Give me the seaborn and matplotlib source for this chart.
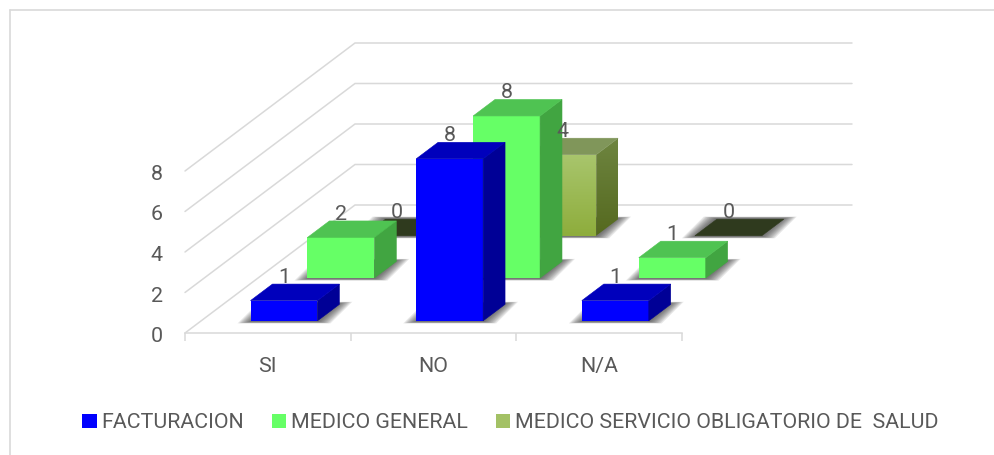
import numpy as np
import pandas as pd
import matplotlib
matplotlib.use("Agg")
import matplotlib.pyplot as plt
from matplotlib.lines import Line2D
from matplotlib.patches import Patch, Polygon
from matplotlib.colors import to_rgb
from matplotlib.transforms import ScaledTranslation
import seaborn as sns

categories = ["SI", "NO", "N/A"]
series_names = ["FACTURACION", "MEDICO GENERAL", "MEDICO SERVICIO OBLIGATORIO DE  SALUD"]
facturacion = [1, 8, 1]
medico_general = [2, 8, 1]
medico_servicio = [0, 4, 0]
y_ticks = [0, 2, 4, 6, 8]

W, H = 994, 455
TEXT = "#595959"
GRID = "#D9D9D9"
FS = 15.4
FRONT = ["#0000FF", "#66FF66", "#A3C165"]
STYLE = {
    series_names[0]: dict(depth=0.095, z=50, top="#0000BC", side=("#000096", "#000096"),
                          front=("#0000FF", "#0000FF")),
    series_names[1]: dict(depth=0.43, z=30, top="#4FC352", side=("#41A541", "#41A541"),
                          front=("#66FF66", "#66FF66")),
    series_names[2]: dict(depth=0.76, z=10, top="#80965A", side=("#6E8540", "#55691F"),
                          front=("#A8C56C", "#8EAD3C")),
}
ZERO_TOP = "#2F3A1E"

sns.set_theme(style="white")
plt.rcParams["font.family"] = ["Roboto", "DejaVu Sans"]

df = pd.DataFrame({
    "categoria": categories * 3,
    "serie": np.repeat(series_names, 3),
    "valor": facturacion + medico_general + medico_servicio,
})

fig = plt.figure(figsize=(W / 100, H / 100), dpi=100, facecolor="white")
ax = fig.add_axes([185 / W, (H - 333) / H, 497 / W, 162 / H])
sns.barplot(data=df, x="categoria", y="valor", hue="serie", dodge=False, width=0.404,
            saturation=1, palette=FRONT, legend=False, ax=ax, errorbar=None)
ax.set_xlim(-0.5, 2.5)
ax.set_ylim(0, 8)
XLIM, YLIM = ax.get_xlim(), ax.get_ylim()

px_x = 3 / 497          # data units of one pixel, horizontally
px_y = 8 / 162          # data units of one pixel, vertically
dx_full = 170 * px_x    # oblique offset of the full floor depth
dy_full = 128 * px_y
bar_depth = 0.129


def oblique(x, y, d):
    return x + d * dx_full, y + d * dy_full


def gradient(verts, colors, z):
    xs, ys = zip(*verts)
    c0, c1 = np.array(to_rgb(colors[0])), np.array(to_rgb(colors[1]))
    t = np.linspace(0, 1, 64)[:, None]
    img = (c0 * (1 - t) + c1 * t)[:, None, :]
    im = ax.imshow(img, extent=(min(xs), max(xs), min(ys), max(ys)), aspect="auto",
                   origin="upper", zorder=z, interpolation="bilinear")
    clip = Polygon(verts, transform=ax.transData, closed=True)
    im.set_clip_box(fig.bbox)
    im.set_clip_path(clip)


# gridlines running up the left wall and along the back wall
for v in y_ticks:
    xb, yb = oblique(XLIM[0], v, 1)
    ax.plot([XLIM[0], xb, xb + 3], [v, yb, yb], color=GRID, lw=1.1, clip_on=False,
            zorder=1, solid_joinstyle="miter")

for container, name in zip(ax.containers, series_names):
    st = STYLE[name]
    d0, d1, z = st["depth"], st["depth"] + bar_depth, st["z"]
    for bar in container:
        x0, w, h = bar.get_x(), bar.get_width(), bar.get_height()
        x1 = x0 + w
        # soft shadow on the floor
        for e in np.linspace(13, 1, 9):
            ex, ey = e * px_x, (1 + e * 0.12) * px_y
            pts = [oblique(x0 - ex, 0 - ey, d0), oblique(x1 + ex, 0 - ey, d0),
                   oblique(x1 + ex, 0 + ey, d1), oblique(x0 - ex, 0 + ey, d1)]
            ax.fill(*zip(*pts), color="#303030", alpha=0.11, lw=0, clip_on=False, zorder=z - 1)
        f_bl, f_br = oblique(x0, 0, d0), oblique(x1, 0, d0)
        f_tl, f_tr = oblique(x0, h, d0), oblique(x1, h, d0)
        b_br, b_tr = oblique(x1, 0, d1), oblique(x1, h, d1)
        b_tl = oblique(x0, h, d1)
        # front face: the seaborn bar itself, moved to its depth
        bar.set_x(f_bl[0])
        bar.set_y(f_bl[1])
        bar.set_clip_on(False)
        bar.set_zorder(z + 1)
        bar.set_linewidth(0)
        if h > 0:
            if st["front"][0] != st["front"][1]:
                bar.set_visible(False)
                gradient([f_bl, f_br, f_tr, f_tl], st["front"], z + 1)
            if st["side"][0] != st["side"][1]:
                gradient([f_br, b_br, b_tr, f_tr], st["side"], z + 1)
            else:
                ax.fill(*zip(f_br, b_br, b_tr, f_tr), color=st["side"][0], lw=0.4,
                        clip_on=False, zorder=z + 1)
        top = st["top"] if h > 0 else ZERO_TOP
        ax.fill(*zip(f_tl, f_tr, b_tr, b_tl), color=top, lw=0.4, clip_on=False, zorder=z + 1)
        ax.annotate(f"{h:.0f}", xy=((f_tl[0] + f_tr[0]) / 2, b_tl[1]), xytext=(0, -2),
                    textcoords="offset points", ha="center", va="bottom", fontsize=FS,
                    color=TEXT, zorder=100, annotation_clip=False)

ax.set_xlim(XLIM)
ax.set_ylim(YLIM)

# axes
sns.despine(ax=ax, left=True, top=True, right=True)
ax.spines["bottom"].set_color(GRID)
ax.spines["bottom"].set_linewidth(1.1)
ax.set_xlabel("")
ax.set_ylabel("")
ax.set_yticks(y_ticks)
ax.set_xticks([0, 1, 2], categories)
ax.set_xticks([-0.5, 0.5, 1.5, 2.5], minor=True)
ax.tick_params(axis="x", which="major", length=0, pad=17, labelsize=FS, labelcolor=TEXT)
ax.tick_params(axis="x", which="minor", length=6, width=1.1, color=GRID, bottom=True)
ax.tick_params(axis="y", length=0, pad=16, labelsize=FS, labelcolor=TEXT)
shift = ScaledTranslation(0, -3 / 72 * 0.72, fig.dpi_scale_trans)
for lab in ax.get_yticklabels():
    lab.set_verticalalignment("center")
    lab.set_transform(lab.get_transform() + ScaledTranslation(0, -3.5 / 100, fig.dpi_scale_trans))
ax.patch.set_alpha(0)

# legend
handles = [Patch(facecolor=c, edgecolor="none") for c in FRONT]
ax.legend(handles, series_names, loc="center left", bbox_to_anchor=(76 / W, (H - 423) / H),
          bbox_transform=fig.transFigure, ncol=3, frameon=False, fontsize=FS,
          labelcolor=TEXT, handlelength=0.66, handleheight=0.66, handletextpad=0.23,
          columnspacing=1.31, borderpad=0.3, borderaxespad=0)

# chart frame (left and top edges only)
fig.add_artist(Line2D([10 / W, 10 / W], [0, (H - 10) / H], color=GRID, lw=1.2))
fig.add_artist(Line2D([10 / W, 1], [(H - 10) / H, (H - 10) / H], color=GRID, lw=1.2))

fig.savefig("out.png", dpi=100, facecolor="white")
